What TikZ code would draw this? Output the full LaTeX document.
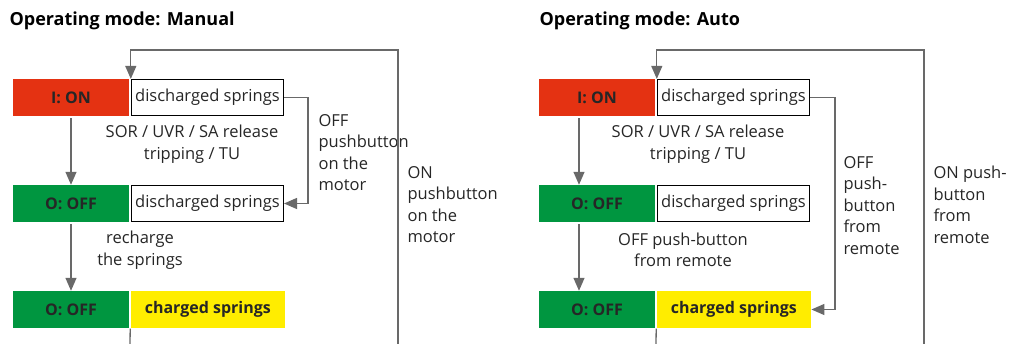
\documentclass[tikz,border=0pt]{standalone}
\usepackage{fontspec}
\setmainfont{Open Sans}
\usepackage{xcolor}
\usetikzlibrary{arrows.meta,positioning}

\definecolor{onred}{RGB}{228,50,18}
\definecolor{offgreen}{RGB}{0,150,64}
\definecolor{sprgyellow}{RGB}{255,237,0}
\definecolor{wiregray}{RGB}{105,105,105}

\begin{document}
\begin{tikzpicture}[x=1pt, y=-1pt,
    modebox/.style={rectangle, inner sep=0pt, minimum width=116pt, minimum height=37pt,
                    font=\fontsize{16}{18}\selectfont\bfseries, text=black!85},
    springbox/.style={rectangle, draw=black, line width=1.2pt, fill=white, inner sep=0pt,
                      minimum width=152pt, minimum height=36pt,
                      font=\fontsize{16.5}{18}\selectfont, text=black!85},
    heading/.style={anchor=west, font=\fontsize{18}{20}\selectfont\bfseries},
    lbl/.style={font=\fontsize{16.5}{21.5}\selectfont, text=black!85},
    wire/.style={wiregray, line width=1.3pt},
    arr/.style={-{Triangle[length=13pt, width=11pt]}, wiregray, line width=1.3pt},
]
\useasboundingbox (0,0) rectangle (1015,344);

% Manual (left)
\node[heading] (mtitle) at (6,21) {Operating mode: Manual};
\node[modebox, fill=onred] (mon) at (71,97.5) {I: ON};
\node[springbox, right=1.6pt of mon] (mons) {discharged springs};
\node[modebox, fill=offgreen] (moff) at (71,203.5) {O: OFF};
\node[springbox, right=1.6pt of moff] (moffs) {discharged springs};
\node[modebox, fill=offgreen] (mchg) at (71,309.5) {O: OFF};
\node[springbox, draw=none, fill=sprgyellow, minimum width=154pt, minimum height=37pt,
      font=\fontsize{16}{18}\selectfont\bfseries, right=1pt of mchg] (mchgs) {charged springs};

\draw[arr, shorten <=2pt] (mon) -- (moff);
\draw[arr, shorten <=2pt] (moff) -- (mchg);
\node[lbl, align=center] (mtrip) at (192,144) {SOR / UVR / SA release\\tripping / TU};
\node[lbl, align=center] (mrech) at (140,250) {recharge\\the springs};

\draw[arr] (mons.east) -- ++(24,0) |- (moffs.east);
\node[lbl, align=left, anchor=west] (moffl) at (315,152.5) {OFF\\pushbutton\\on the\\motor};

\coordinate (mout) at (130,345);
\coordinate (mret) at (398,345);
\coordinate (mtop) at (398,50);
\draw[wire] (mchgs.south west) -- (mout);
\draw[arr] (mret) -- (mtop) -| (mons.north west);
\node[lbl, align=left, anchor=west] (monl) at (404,204.5) {ON\\pushbutton\\on the\\motor};

% Auto (right)
\node[heading] (atitle) at (536,21) {Operating mode: Auto};
\node[modebox, fill=onred] (aon) at (597,97.5) {I: ON};
\node[springbox, right=1.6pt of aon] (aons) {discharged springs};
\node[modebox, fill=offgreen] (aoff) at (597,203.5) {O: OFF};
\node[springbox, right=1.6pt of aoff] (aoffs) {discharged springs};
\node[modebox, fill=offgreen] (achg) at (597,309.5) {O: OFF};
\node[springbox, draw=none, fill=sprgyellow, minimum width=154pt, minimum height=37pt,
      font=\fontsize{16}{18}\selectfont\bfseries, right=1pt of achg] (achgs) {charged springs};

\draw[arr, shorten <=2pt] ([xshift=-18pt]aon.south) -- ([xshift=-18pt]aoff.north);
\draw[arr, shorten <=2pt] ([xshift=-18pt]aoff.south) -- ([xshift=-18pt]achg.north);
\node[lbl, align=center] (atrip) at (698,144) {SOR / UVR / SA release\\tripping / TU};
\node[lbl, align=center] (apush) at (683,250) {OFF push-button\\from remote};

\draw[arr] (aons.east) -- ++(25,0) |- (achgs.east);
\node[lbl, align=left, anchor=west] (aoffl) at (840,205.5) {OFF\\push-\\button\\from\\remote};

\coordinate (aout) at (656,345);
\coordinate (aret) at (924,345);
\coordinate (atop) at (924,50);
\draw[wire] (achgs.south west) -- (aout);
\draw[arr] (aret) -- (atop) -| (aons.north west);
\node[lbl, align=left, anchor=west] (aonl) at (930,205) {ON push-\\button\\from\\remote};
\end{tikzpicture}
\end{document}
